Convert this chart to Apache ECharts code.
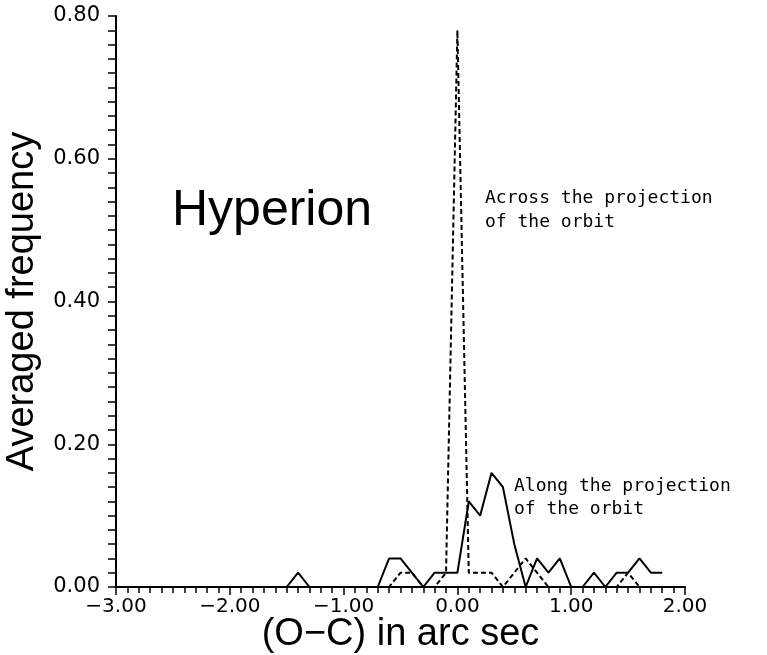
<!DOCTYPE html>
<html>
<head>
<meta charset="utf-8">
<script src="https://cdn.jsdelivr.net/npm/echarts@6/dist/echarts.min.js"></script>
<style>
html,body{margin:0;padding:0;background:#fff;}
#c{width:767px;height:655px;}
</style>
</head>
<body>
<div id="c"></div>
<script>
// Data
const xVals = [-3.0,-2.9,-2.8,-2.7,-2.6,-2.5,-2.4,-2.3,-2.2,-2.1,
               -2.0,-1.9,-1.8,-1.7,-1.6,-1.5,-1.4,-1.3,-1.2,-1.1,
               -1.0,-0.9,-0.8,-0.7,-0.6,-0.5,-0.4,-0.3,-0.2,-0.1,
               0.0,0.1,0.2,0.3,0.4,0.5,0.6,0.7,0.8,0.9,
               1.0,1.1,1.2,1.3,1.4,1.5,1.6,1.7,1.8];
// Along the projection of the orbit (solid)
const alongVals = [0,0,0,0,0,0,0,0,0,0,
                   0,0,0,0,0,0,0.02,0,0,0,
                   0,0,0,0,0.04,0.04,0.02,0,0.02,0.02,
                   0.02,0.12,0.10,0.16,0.14,0.06,0,0.04,0.02,0.04,
                   0,0,0.02,0,0.02,0.02,0.04,0.02,0.02];
// Across the projection of the orbit (dashed)
const acrossVals = [0,0,0,0,0,0,0,0,0,0,
                    0,0,0,0,0,0,0,0,0,0,
                    0,0,0,0,0,0.02,0.02,0,0,0.02,
                    0.78,0.02,0.02,0.02,0,0.02,0.04,0.02,0,0,
                    0,0,0,0,0,0.02,0,0,0];
const xTicks = {min:-3, max:2, interval:1};
const yTicks = {min:0, max:0.8, interval:0.2};

const pairs = (ys) => xVals.map((x,i)=>[x, ys[i]]);
const fmt = (v) => { const s = Math.abs(v).toFixed(2); return (v < -1e-9 ? '\u2212' : '') + s; };

const chart = echarts.init(document.getElementById('c'), null, {renderer:'canvas'});
chart.setOption({
  animation:false,
  backgroundColor:'#fff',
  grid:{left:116, top:16, width:569, height:571, containLabel:false, outerBoundsMode:'none'},
  xAxis:{
    type:'value', min:xTicks.min, max:xTicks.max, interval:xTicks.interval,
    name:'(O\u2212C) in arc sec', nameLocation:'middle', nameGap:29, nameMoveOverlap:false,
    nameTextStyle:{fontFamily:'Liberation Sans', fontSize:38, color:'#000'},
    axisLine:{show:true, onZero:false, lineStyle:{color:'#000', width:2}},
    axisTick:{show:true, inside:false, length:8, lineStyle:{color:'#000', width:1.5}},
    minorTick:{show:true, splitNumber:10, length:6, lineStyle:{color:'#000', width:1.5}},
    splitLine:{show:false}, minorSplitLine:{show:false},
    axisLabel:{formatter:fmt, margin:10, fontFamily:'DejaVu Sans', fontSize:20, color:'#000', showMinLabel:true, showMaxLabel:true}
  },
  yAxis:{
    type:'value', min:yTicks.min, max:yTicks.max, interval:yTicks.interval,
    name:'Averaged frequency', nameLocation:'middle', nameGap:74, nameRotate:90, nameMoveOverlap:false,
    nameTextStyle:{fontFamily:'Liberation Sans', fontSize:38, color:'#000'},
    axisLine:{show:true, onZero:false, lineStyle:{color:'#000', width:2}},
    axisTick:{show:true, inside:false, length:8, lineStyle:{color:'#000', width:1.5}},
    minorTick:{show:true, splitNumber:10, length:8, lineStyle:{color:'#000', width:1.5}},
    splitLine:{show:false}, minorSplitLine:{show:false},
    axisLabel:{formatter:fmt, margin:16, fontFamily:'DejaVu Sans', fontSize:21, color:'#000', showMinLabel:true, showMaxLabel:true}
  },
  series:[
    {name:'Along the projection of the orbit', type:'line', data:pairs(alongVals), symbol:'none',
     lineStyle:{color:'#000', width:2, type:'solid'}, z:3},
    {name:'Across the projection of the orbit', type:'line', data:pairs(acrossVals), symbol:'none',
     lineStyle:{color:'#000', width:2, type:[5,3]}, z:2}
  ],
  graphic:[
    {type:'text', left:172, top:186, style:{text:'Hyperion', font:'50px "Liberation Sans"', fill:'#000'}},
    {type:'text', left:485, top:186, style:{text:'Across the projection\nof the orbit', font:'18px "DejaVu Sans Mono"', lineHeight:24, fill:'#000'}},
    {type:'text', left:514, top:475, style:{text:'Along the projection\nof the orbit', font:'18px "DejaVu Sans Mono"', lineHeight:23, fill:'#000'}}
  ]
});
</script>
</body>
</html>
